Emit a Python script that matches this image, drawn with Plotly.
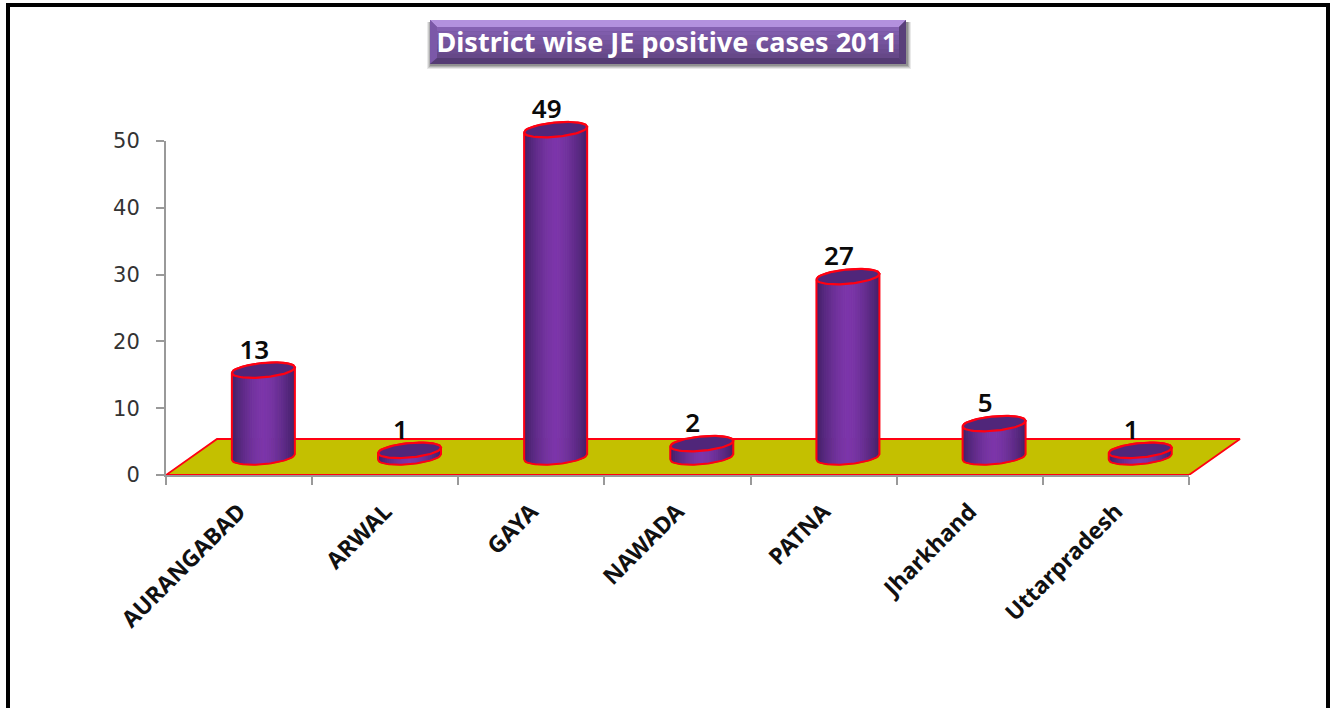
import numpy as np
import plotly.graph_objects as go

categories = ["AURANGABAD", "ARWAL", "GAYA", "NAWADA", "PATNA", "Jharkhand", "Uttarpradesh"]
values = [13, 1, 49, 2, 27, 5, 1]
y_ticks = [0, 10, 20, 30, 40, 50]
title_text = "District wise JE positive cases 2011"

W, H = 1332, 708
X0, X1, Y0, Y1 = 166, 1189, 475, 141   # axis pixel extents
XR, YT = 1245, 100                     # extent of the drawing layer for 3-D marks
PX = (X1 - X0) / 7.0                   # pixels per category
PY = (Y0 - Y1) / 50.0                  # pixels per unit

BASE = 18 / PY        # depth of the 3-D base above the axis
SHIFT = 24.3 / PX     # 3-D shift of the cylinders to the right
A = 31.5 / PX         # ellipse half-width
B = 7.2 / PY          # ellipse half-height
TILT = 2.8 / PY       # rise of the ellipse at its right end
RED = "#ff0012"

def px(x):
    return (x - X0) / (XR - X0)

def py(y):
    return (Y0 - y) / (Y0 - YT)

def mix(c1, c2, t):
    return "rgb(%d,%d,%d)" % tuple(round(a + (b - a) * t) for a, b in zip(c1, c2))

def arc_y(u, sign):
    return TILT * u + sign * B * np.sqrt(np.clip(1 - u * u, 0, 1))

fig = go.Figure()

# the real axes: an invisible trace ties the categories and values to them
fig.add_trace(go.Scatter(x=categories, y=values, mode="markers", marker=dict(opacity=0),
                         hoverinfo="skip", showlegend=False))

mark = dict(xaxis="x2", yaxis="y2", hoverinfo="skip", showlegend=False)

# floor
DX, DY = 51 / PX, 36 / PY
fig.add_trace(go.Scatter(
    x=[0, 7, 7 + DX, DX, 0], y=[0, 0, DY, DY, 0], mode="lines", fill="toself",
    fillcolor="#c4c000", line=dict(color=RED, width=1.8), **mark))

# cylinder bodies: vertical strips with a dark-light-dark shading
N = 15
edges = np.linspace(-1, 1, 2 * N + 1)
dark, light = (68, 32, 104), (124, 54, 170)
for k in range(N):
    xs, ys = [], []
    for s in (-1, 1):
        lo, hi = sorted((s * edges[N + k], s * edges[N + k + 1]))
        uu = np.linspace(lo, hi, 4)
        for i, v in enumerate(values):
            cx = i + 0.5 + SHIFT
            top = BASE + v
            xs += list(cx + A * uu) + list(cx + A * uu[::-1]) + [cx + A * uu[0], None]
            ys += list(top + arc_y(uu, -1)) + list(BASE + arc_y(uu[::-1], -1)) + [top + arc_y(uu[:1], -1)[0], None]
    t = 1 - ((k + 0.5) / N) ** 1.6
    c = mix(dark, light, t)
    fig.add_trace(go.Scatter(x=xs, y=ys, mode="lines", fill="toself", fillcolor=c,
                             line=dict(color=c, width=1), **mark))

# outlines and top faces
uu = np.linspace(-1, 1, 41)
for i, v in enumerate(values):
    cx = i + 0.5 + SHIFT
    top = BASE + v
    ox = list(cx + A * uu) + list(cx + A * uu[::-1]) + [cx - A]
    oy = list(BASE + arc_y(uu, -1)) + list(top + arc_y(uu[::-1], 1)) + [BASE + arc_y(uu[:1], -1)[0]]
    fig.add_trace(go.Scatter(x=ox, y=oy, mode="lines", line=dict(color=RED, width=2), **mark))
    ex = list(cx + A * uu) + list(cx + A * uu[::-1])
    ey = list(top + arc_y(uu, -1)) + list(top + arc_y(uu[::-1], 1))
    fig.add_trace(go.Scatter(x=ex, y=ey, mode="lines", fill="toself", fillcolor="#50267a",
                             line=dict(color=RED, width=2.2), **mark))

# value labels
fig.add_trace(go.Scatter(
    x=[i + 0.5 + SHIFT - 9 / PX for i in range(len(values))],
    y=[BASE + v + 18 / PY for v in values],
    mode="text", text=[str(v) for v in values], textposition="middle center",
    textfont=dict(family="Noto Sans", size=26, color="#0a0a0a", weight=600), **mark))

shapes = [
    # black frame
    dict(type="rect", xref="paper", yref="paper", x0=px(8), x1=px(1328), y0=py(5), y1=py(730),
         line=dict(color="#000000", width=4), fillcolor="rgba(0,0,0,0)", layer="below"),
]
# title plate: soft shadow, bevel strips, vertical gradient
for grow, alpha in ((4, 0.10), (3, 0.14), (2, 0.18), (1, 0.22)):
    shapes.append(dict(type="rect", xref="paper", yref="paper", x0=px(431 - grow), x1=px(907 + grow),
                       y0=py(22), y1=py(65 + grow), line=dict(width=0),
                       fillcolor="rgba(40,40,40,%.2f)" % alpha, layer="below"))
shapes.append(dict(type="rect", xref="paper", yref="paper", x0=px(430), x1=px(906), y0=py(20), y1=py(64),
                   line=dict(width=0), fillcolor="#6c4e92", layer="below"))
def poly(pts):
    return "M" + " L".join("%.5f,%.5f" % (px(a), py(b)) for a, b in pts) + " Z"
shapes.append(dict(type="path", xref="paper", yref="paper", path=poly([(430, 20), (906, 20), (899, 27), (437, 27)]),
                   line=dict(width=0), fillcolor="#b391de", layer="below"))
shapes.append(dict(type="path", xref="paper", yref="paper", path=poly([(430, 20), (437, 27), (437, 58), (430, 64)]),
                   line=dict(width=0), fillcolor="#7b58a8", layer="below"))
shapes.append(dict(type="path", xref="paper", yref="paper", path=poly([(906, 20), (899, 27), (899, 58), (906, 64)]),
                   line=dict(width=0), fillcolor="#593f7a", layer="below"))
shapes.append(dict(type="path", xref="paper", yref="paper", path=poly([(430, 64), (437, 58), (899, 58), (906, 64)]),
                   line=dict(width=0), fillcolor="#553c74", layer="below"))
for j, col in enumerate(["#8561b2", "#7f5cab", "#7a58a4", "#75549d", "#705096", "#6b4c8f", "#664888"]):
    shapes.append(dict(type="rect", xref="paper", yref="paper", x0=px(437), x1=px(899),
                       y0=py(27 + j * 31 / 7), y1=py(27 + (j + 1) * 31 / 7), line=dict(width=0),
                       fillcolor=col, layer="below"))

fig.update_layout(
    width=W, height=H, autosize=False,
    paper_bgcolor="#ffffff", plot_bgcolor="rgba(0,0,0,0)",
    margin=dict(l=X0, r=W - XR, t=YT, b=H - Y0, pad=0),
    showlegend=False, shapes=shapes,
    title=dict(text=title_text, x=667 / W, y=1 - 43 / H, xanchor="center", yanchor="middle",
               font=dict(family="Noto Sans", size=27, color="#ffffff", weight=700)),
    xaxis=dict(type="category", categoryorder="array", categoryarray=categories,
               domain=[0, px(X1)], range=[-0.5, 6.5], tickson="boundaries", ticks="outside",
               ticklen=8, tickwidth=2, tickcolor="#999999", showline=True, linecolor="#999999",
               linewidth=2, showgrid=False, zeroline=False, tickangle=-45, ticklabelstandoff=12,
               tickfont=dict(family="Noto Sans", size=23, color="#111111", weight=700)),
    yaxis=dict(domain=[0, py(Y1)], range=[0, 50], tickvals=y_ticks, ticks="outside", ticklen=8,
               tickwidth=2, tickcolor="#999999", showline=True, linecolor="#999999", linewidth=2,
               showgrid=False, zeroline=False, ticklabelstandoff=12,
               tickfont=dict(family="DejaVu Sans", size=21, color="#333333")),
    xaxis2=dict(domain=[0, 1], range=[0, (XR - X0) / PX], visible=False, anchor="y2"),
    yaxis2=dict(domain=[0, 1], range=[0, (Y0 - YT) / PY], visible=False, anchor="x2"),
)

fig.write_html("out.html", config={"displayModeBar": False},
               post_script="document.body.style.margin='0';document.body.style.overflow='hidden';")
